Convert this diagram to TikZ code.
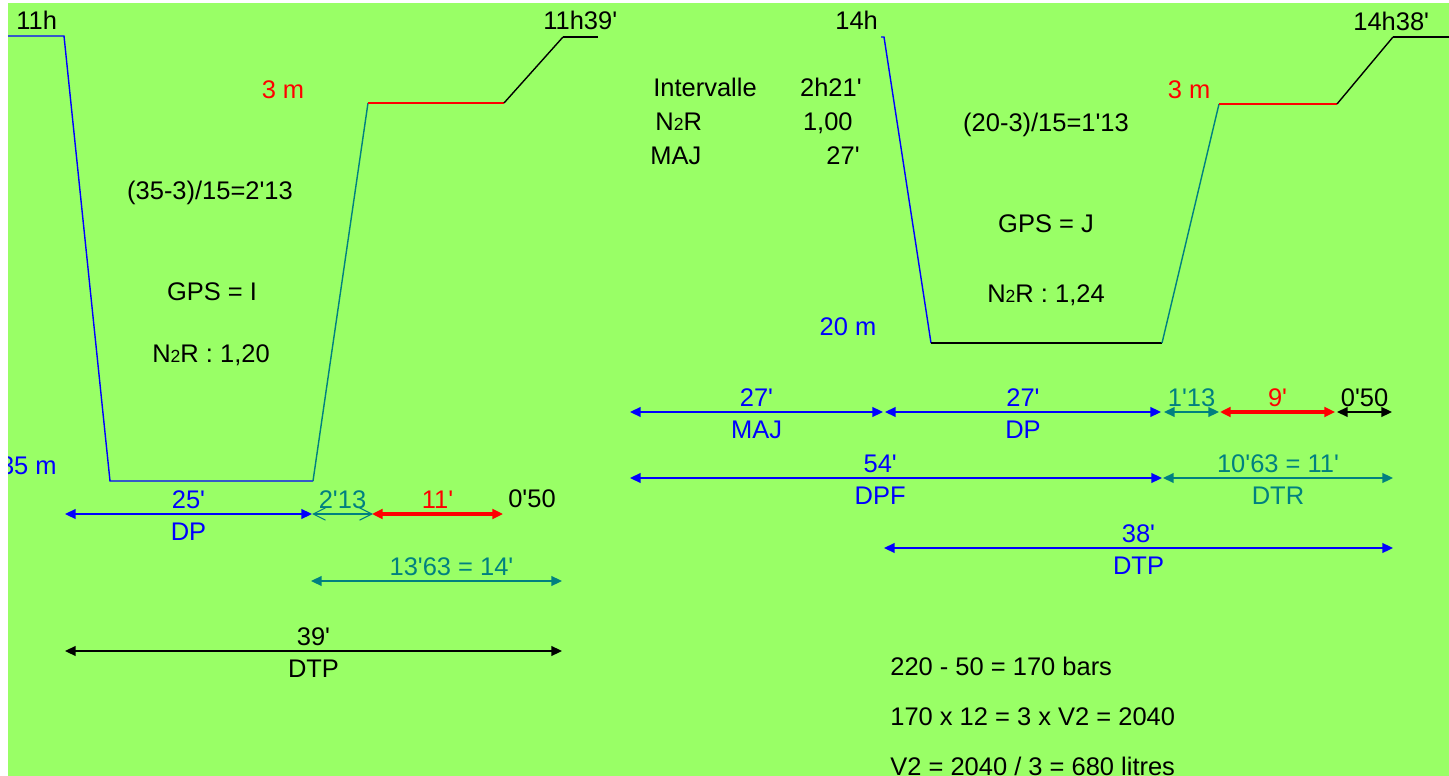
\documentclass[tikz,border=0pt]{standalone}
\usepackage{fontspec}
\setmainfont{Liberation Sans}[Ligatures=TeXOff]
\usetikzlibrary{arrows.meta,positioning}

\definecolor{bggreen}{RGB}{153,255,102}
\definecolor{dteal}{RGB}{0,128,128}
\newcommand{\ntwor}{N{\fontsize{10}{12}\selectfont 2}R}

\begin{document}
\begin{tikzpicture}[
  x=0.02cm, y=-0.02cm,
  txt/.style={anchor=base,inner sep=0pt,font=\fontsize{14.5}{17}\selectfont},
  toplab/.style={txt,midway,yshift=3.4pt},
  botlab/.style={txt,midway,yshift=-15.3pt},
  prof/.style={line width=0.8pt},
  dim/.style={line width=1pt,{Triangle[length=6pt,width=5.5pt]}-{Triangle[length=6pt,width=5.5pt]}},
  dimpal/.style={dim,red,line width=1.8pt},
  dimopen/.style={dteal,line width=0.6pt,{Straight Barb[length=7pt,width=7pt]}-{Straight Barb[length=7pt,width=7pt]}}
]
  % Page and background
  \useasboundingbox (0,0) rectangle (1449,776);
  \fill[white] (0,0) rectangle (1449,776);
  \clip (8,3) rectangle (1449,776);
  \fill[bggreen] (8,3) rectangle (1449,776);

  % First dive: profile
  \coordinate (lA) at (8,36);
  \coordinate (lB) at (64,36);
  \coordinate (lC) at (110,481);
  \coordinate (lD) at (313,481);
  \coordinate (lE) at (368,103);
  \coordinate (lF) at (504,103);
  \coordinate (lG) at (563,37);
  \coordinate (lH) at (598,37);
  \draw[prof,blue] (lA) -- (lB) -- (lC) -- (lD);
  \draw[prof,dteal] (lD) -- (lE);
  \draw[prof,red,line width=1.2pt] (lE) -- (lF);
  \draw[prof,black] (lF) -- (lG);
  \draw[black,line width=1.4pt] (lG) -- (lH);

  % First dive: texts
  \node[txt,anchor=base west] (tstart) at (16,30) {11h};
  \node[txt,anchor=base west] (tend) at (543,30) {11h39'};
  \node[txt,red] (palA) at (283,99) {3 m};
  \node[txt,blue,anchor=base east] (depthA) at (57,474) {35 m};
  \node[txt] (ascA) at (210,200) {(35-3)/15=2'13};
  \node[txt] (gpsA) at (212,301) {GPS = I};
  \node[txt] (ntrA) at (211,363) {\ntwor{} : 1,20};

  % First dive: durations
  \coordinate (dpL) at (65,514);
  \coordinate (dpR) at (312,514);
  \coordinate (asL) at (312,514);
  \coordinate (asR) at (373,514);
  \coordinate (paL) at (372,514);
  \coordinate (paR) at (503,514);
  \coordinate (dtrL) at (311,581);
  \coordinate (dtrR) at (562,581);
  \coordinate (dtpL) at (65,651);
  \coordinate (dtpR) at (562,651);
  \draw[dim,blue] (dpL) -- node[toplab]{25'} node[botlab]{DP} (dpR);
  \draw[dimopen] (asL) -- node[toplab]{2'13} (asR);
  \draw[dimpal] (paL) -- node[toplab]{11'} (paR);
  \node[txt] (surfA) at (532,507) {0'50};
  \draw[dim,dteal] (dtrL) -- node[toplab,xshift=0.3cm]{13'63 = 14'} (dtrR);
  \draw[dim,black] (dtpL) -- node[toplab]{39'} node[botlab]{DTP} (dtpR);

  % Second dive: profile
  \coordinate (rA) at (881,37);
  \coordinate (rB) at (884,37);
  \coordinate (rC) at (931,343);
  \coordinate (rD) at (1162,343);
  \coordinate (rE) at (1219,104);
  \coordinate (rF) at (1337,104);
  \coordinate (rG) at (1393,37);
  \coordinate (rH) at (1449,37);
  \draw[prof,blue] (rA) -- (rB) -- (rC);
  \draw[prof,black] (rC) -- (rD);
  \draw[prof,dteal] (rD) -- (rE);
  \draw[prof,red,line width=1.2pt] (rE) -- (rF);
  \draw[prof,black] (rF) -- (rG);
  \draw[black,line width=1.4pt] (rG) -- (rH);

  % Second dive: texts
  \node[txt,anchor=base west] (tstartB) at (835,30) {14h};
  \node[txt,anchor=base west] (tendB) at (1353,31) {14h38'};
  \node[txt,red] (palB) at (1189,99) {3 m};
  \node[txt,blue] (depthB) at (848,336) {20 m};
  \node[txt] (ascB) at (1046,132) {(20-3)/15=1'13};
  \node[txt] (gpsB) at (1046,233) {GPS = J};
  \node[txt] (ntrB) at (1046,303) {\ntwor{} : 1,24};

  % Surface interval
  \node[txt,anchor=base west] (ivl) at (653,97) {Intervalle};
  \node[txt,anchor=base east] (ivlv) at (862,97) {2h21'};
  \node[txt,anchor=base west] (ntr) at (655,131) {\ntwor};
  \node[txt,anchor=base east] (ntrv) at (853,131) {1,00};
  \node[txt,anchor=base west] (maj) at (650,165) {MAJ};
  \node[txt,anchor=base east] (majv) at (860,165) {27'};

  % Second dive: durations
  \coordinate (majL) at (630,412);
  \coordinate (majR) at (883,412);
  \coordinate (dpL2) at (885,412);
  \coordinate (dpR2) at (1161,412);
  \coordinate (asL2) at (1164,412);
  \coordinate (asR2) at (1219,412);
  \coordinate (paL2) at (1220,412);
  \coordinate (paR2) at (1335,412);
  \coordinate (sfL2) at (1337,412);
  \coordinate (sfR2) at (1392,412);
  \coordinate (dpfL) at (630,478);
  \coordinate (dpfR) at (1162,478);
  \coordinate (dtrL2) at (1163,478);
  \coordinate (dtrR2) at (1393,478);
  \coordinate (dtpL2) at (884,548);
  \coordinate (dtpR2) at (1393,548);
  \draw[dim,blue] (majL) -- node[toplab]{27'} node[botlab]{MAJ} (majR);
  \draw[dim,blue] (dpL2) -- node[toplab]{27'} node[botlab]{DP} (dpR2);
  \draw[dim,dteal] (asL2) -- node[toplab]{1'13} (asR2);
  \draw[dimpal] (paL2) -- node[toplab]{9'} (paR2);
  \draw[dim,black] (sfL2) -- node[toplab]{0'50} (sfR2);
  \draw[dim,blue] (dpfL) -- node[toplab,xshift=-9pt]{54'} node[botlab,xshift=-9pt]{DPF} (dpfR);
  \draw[dim,dteal] (dtrL2) -- node[toplab]{10'63 = 11'} node[botlab]{DTR} (dtrR2);
  \draw[dim,blue] (dtpL2) -- node[toplab]{38'} node[botlab]{DTP} (dtpR2);

  % Gas calculation
  \node[txt,anchor=base west] (gasA) at (890,675) {220 - 50 = 170 bars};
  \node[txt,anchor=base west] (gasB) at (890,725) {170 x 12 = 3 x V2 = 2040};
  \node[txt,anchor=base west] (gasC) at (890,775) {V2 = 2040 / 3 = 680 litres};
\end{tikzpicture}
\end{document}
